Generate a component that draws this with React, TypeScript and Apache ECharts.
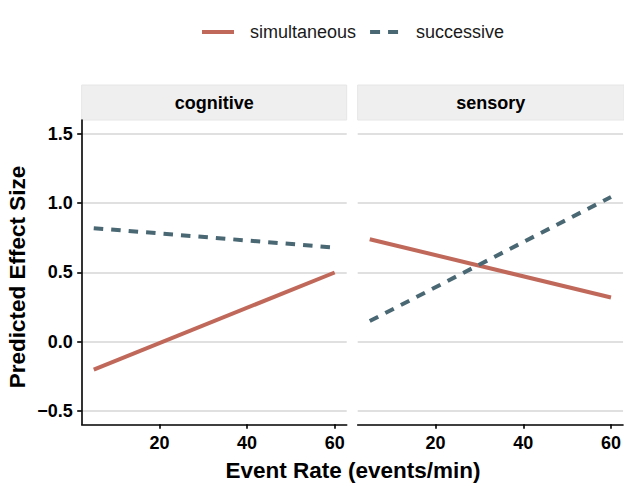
import { useEffect, useRef } from 'react'
import * as echarts from 'echarts'

const FONT = '"Liberation Sans", Arial, sans-serif'

const panels = ['cognitive', 'sensory']
const seriesNames = ['simultaneous', 'successive']
const seriesColors = ['#C0695B', '#4A6874']
const legendIcons = ['path://M0,0h32v4h-32z', 'path://M0,0h10v4h-10zM18,0h10v4h-10z']

// endpoints of the fitted lines, [event rate, predicted effect]
const cognitiveSimultaneous = [
  [5, -0.2],
  [60, 0.5],
]
const cognitiveSuccessive = [
  [5, 0.82],
  [60, 0.68],
]
const sensorySimultaneous = [
  [5, 0.74],
  [60, 0.32],
]
const sensorySuccessive = [
  [5, 0.15],
  [60, 1.045],
]

const xTicks = [20, 40, 60]
const yTicks = [-0.5, 0, 0.5, 1, 1.5]

const gridBoxes = [
  { left: 81.7, width: 265 },
  { left: 357.7, width: 266.3 },
]
const TOP = 120
const HEIGHT = 304.3

export default function App() {
  const ref = useRef<HTMLDivElement | null>(null)

  useEffect(() => {
    document.body.style.margin = '0'
    if (!ref.current) return
    const chart = echarts.init(ref.current, null, { renderer: 'svg' })

    const lineSeries = (name: number, data: number[][], idx: number) => ({
      name: seriesNames[name],
      type: 'line',
      xAxisIndex: idx,
      yAxisIndex: idx,
      data,
      symbol: 'none',
      silent: true,
      lineStyle: {
        color: seriesColors[name],
        width: 4,
        type: name === 1 ? [9.5, 8] : 'solid',
      },
      itemStyle: { color: seriesColors[name] },
    })

    chart.setOption({
      animation: false,
      textStyle: { fontFamily: FONT },
      legend: {
        data: seriesNames.map((n, i) => ({ name: n, icon: legendIcons[i] })),
        left: 197,
        top: 18,
        itemWidth: 32,
        itemHeight: 4,
        itemGap: 14,
        textStyle: {
          fontFamily: FONT,
          fontSize: 18,
          color: '#1a1a1a',
          padding: [0, 0, 0, 11],
        },
      },
      grid: gridBoxes.map((g) => ({ left: g.left, width: g.width, top: TOP, height: HEIGHT })),
      xAxis: gridBoxes.map((_, i) => ({
        type: 'value',
        gridIndex: i,
        min: 2.25,
        max: 62.75,
        axisLine: { show: true, onZero: false, lineStyle: { color: '#000', width: 1.6 } },
        axisTick: { show: true, length: 4.5, customValues: xTicks, lineStyle: { color: '#000', width: 1.6 } },
        axisLabel: {
          customValues: xTicks,
          margin: 10,
          fontFamily: FONT,
          fontSize: 18,
          fontWeight: 'bold',
          color: '#000',
        },
        splitLine: { show: false },
      })),
      yAxis: gridBoxes.map((_, i) => ({
        type: 'value',
        gridIndex: i,
        min: -0.595,
        max: 1.6,
        axisLine: { show: i === 0, onZero: false, lineStyle: { color: '#000', width: 1.6 } },
        axisTick: {
          show: i === 0,
          length: 4.5,
          customValues: yTicks,
          lineStyle: { color: '#000', width: 1.6 },
        },
        axisLabel: {
          show: i === 0,
          customValues: yTicks,
          margin: 9,
          fontFamily: FONT,
          fontSize: 18,
          fontWeight: 'bold',
          color: '#000',
          formatter: (v: number) => (v < 0 ? '\u2212' + Math.abs(v).toFixed(1) : v.toFixed(1)),
        },
        splitLine: {
          show: true,
          customValues: yTicks,
          lineStyle: { color: '#D6D6D6', width: 1.6 },
        },
      })),
      series: [
        lineSeries(0, cognitiveSimultaneous, 0),
        lineSeries(1, cognitiveSuccessive, 0),
        lineSeries(0, sensorySimultaneous, 1),
        lineSeries(1, sensorySuccessive, 1),
      ],
      graphic: [
        ...gridBoxes.map((g, i) => ({
          type: 'group',
          children: [
            {
              type: 'rect',
              shape: { x: g.left, y: 85, width: g.width, height: 35 },
              style: { fill: '#EFEFEF', stroke: '#E6E6E6', lineWidth: 1 },
            },
            {
              type: 'text',
              x: g.left + g.width / 2,
              y: 102.5,
              style: {
                text: panels[i],
                fill: '#000',
                font: `bold 18px ${FONT}`,
                align: 'center',
                verticalAlign: 'middle',
              },
            },
          ],
        })),
        {
          type: 'text',
          x: 353,
          y: 470,
          style: {
            text: 'Event Rate (events/min)',
            fill: '#000',
            font: `bold 22.5px ${FONT}`,
            align: 'center',
            verticalAlign: 'middle',
          },
        },
        {
          type: 'text',
          x: 17,
          y: 277,
          rotation: Math.PI / 2,
          style: {
            text: 'Predicted Effect Size',
            fill: '#000',
            font: `bold 22.5px ${FONT}`,
            align: 'center',
            verticalAlign: 'middle',
          },
        },
      ],
    })

    return () => chart.dispose()
  }, [])

  return <div ref={ref} style={{ width: 624, height: 488 }} />
}
